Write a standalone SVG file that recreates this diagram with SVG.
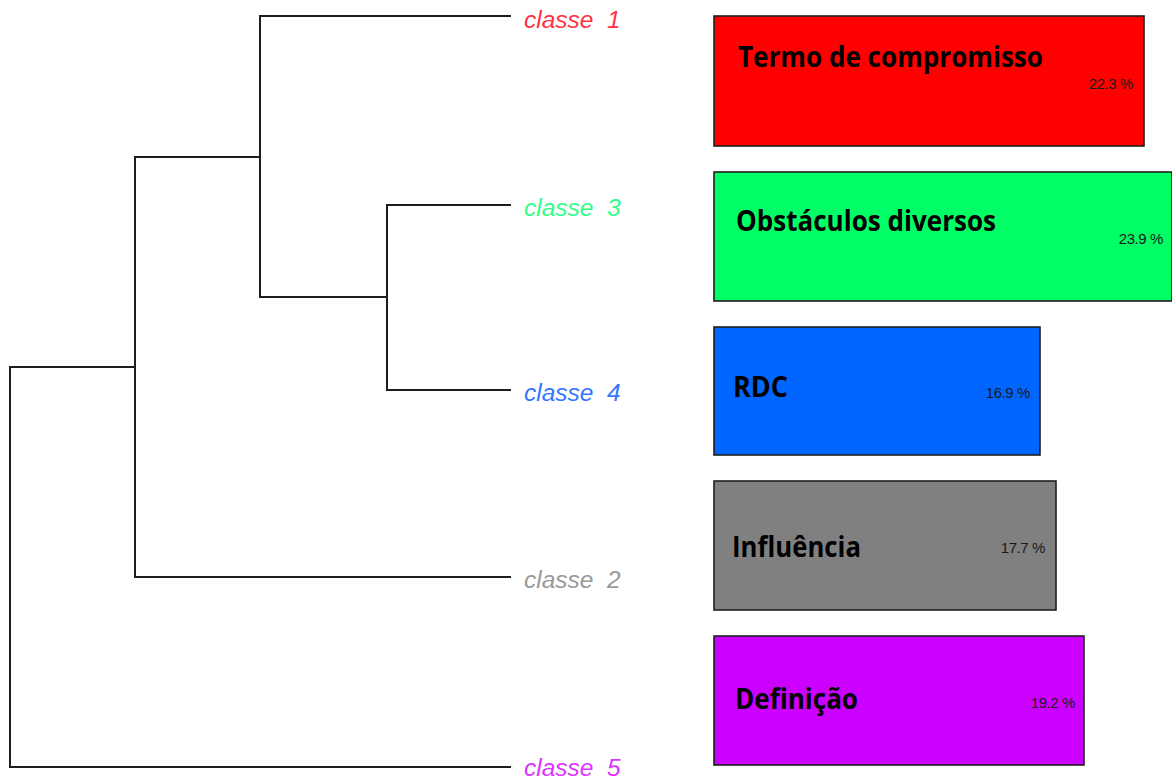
<svg xmlns="http://www.w3.org/2000/svg" width="1172" height="780" viewBox="0 0 1172 780">
  <style>
    .tree { fill: none; stroke: #1e1e1e; stroke-width: 2; stroke-linecap: square; }
    .leaf { font-family: "Liberation Sans", Arial, sans-serif; font-size: 24.5px; font-style: italic; white-space: pre; }
    .box { stroke: #1e1e1e; stroke-width: 1.6; }
    .title { font-family: "Open Sans", "Noto Sans", sans-serif; font-size: 29px; font-weight: bold; fill: #000; }
    .pct { font-family: "Liberation Sans", Arial, sans-serif; font-size: 15px; letter-spacing: -0.4px; fill: #1a1a1a; text-anchor: end; }
  </style>

  <rect width="1172" height="780" fill="#ffffff"/>

  <!-- dendrogram branches -->
  <g id="connectors">
    <path class="tree" d="M10,767 V367 H135"/>
    <path class="tree" d="M10,767 H510"/>
    <path class="tree" d="M135,577 V157 H260"/>
    <path class="tree" d="M135,577 H510"/>
    <path class="tree" d="M260,297 V16 H510"/>
    <path class="tree" d="M260,297 H387"/>
    <path class="tree" d="M387,390 V205 H510"/>
    <path class="tree" d="M387,390 H510"/>
  </g>

  <!-- leaf labels -->
  <g id="leaf-classe1"><text class="leaf" x="524" y="28" fill="#ff3344">classe  1</text></g>
  <g id="leaf-classe3"><text class="leaf" x="524" y="216" fill="#33ff88">classe  3</text></g>
  <g id="leaf-classe4"><text class="leaf" x="524" y="401" fill="#3377ff">classe  4</text></g>
  <g id="leaf-classe2"><text class="leaf" x="524" y="588" fill="#999999">classe  2</text></g>
  <g id="leaf-classe5"><text class="leaf" x="524" y="776" fill="#dd33ff">classe  5</text></g>

  <!-- class boxes -->
  <g id="box-classe1">
    <rect class="box" x="714" y="16" width="430" height="130" fill="#ff0000"/>
    <text class="title" x="738" y="67" textLength="305" lengthAdjust="spacingAndGlyphs">Termo de compromisso</text>
    <text class="pct" x="1133" y="89">22.3 %</text>
  </g>
  <g id="box-classe3">
    <rect class="box" x="714" y="172" width="458" height="129" fill="#00ff66"/>
    <text class="title" x="736" y="231" textLength="260" lengthAdjust="spacingAndGlyphs">Obstáculos diversos</text>
    <text class="pct" x="1163" y="244">23.9 %</text>
  </g>
  <g id="box-classe4">
    <rect class="box" x="714" y="327" width="326" height="128" fill="#0066ff"/>
    <text class="title" x="733" y="397" textLength="55" lengthAdjust="spacingAndGlyphs">RDC</text>
    <text class="pct" x="1030" y="398">16.9 %</text>
  </g>
  <g id="box-classe2">
    <rect class="box" x="714" y="481" width="342" height="129" fill="#808080"/>
    <text class="title" x="732" y="557" textLength="129" lengthAdjust="spacingAndGlyphs">Influência</text>
    <text class="pct" x="1045" y="553">17.7 %</text>
  </g>
  <g id="box-classe5">
    <rect class="box" x="714" y="636" width="370" height="129" fill="#cc00ff"/>
    <text class="title" x="735" y="709" textLength="123" lengthAdjust="spacingAndGlyphs">Definição</text>
    <text class="pct" x="1075" y="708">19.2 %</text>
  </g>
</svg>
